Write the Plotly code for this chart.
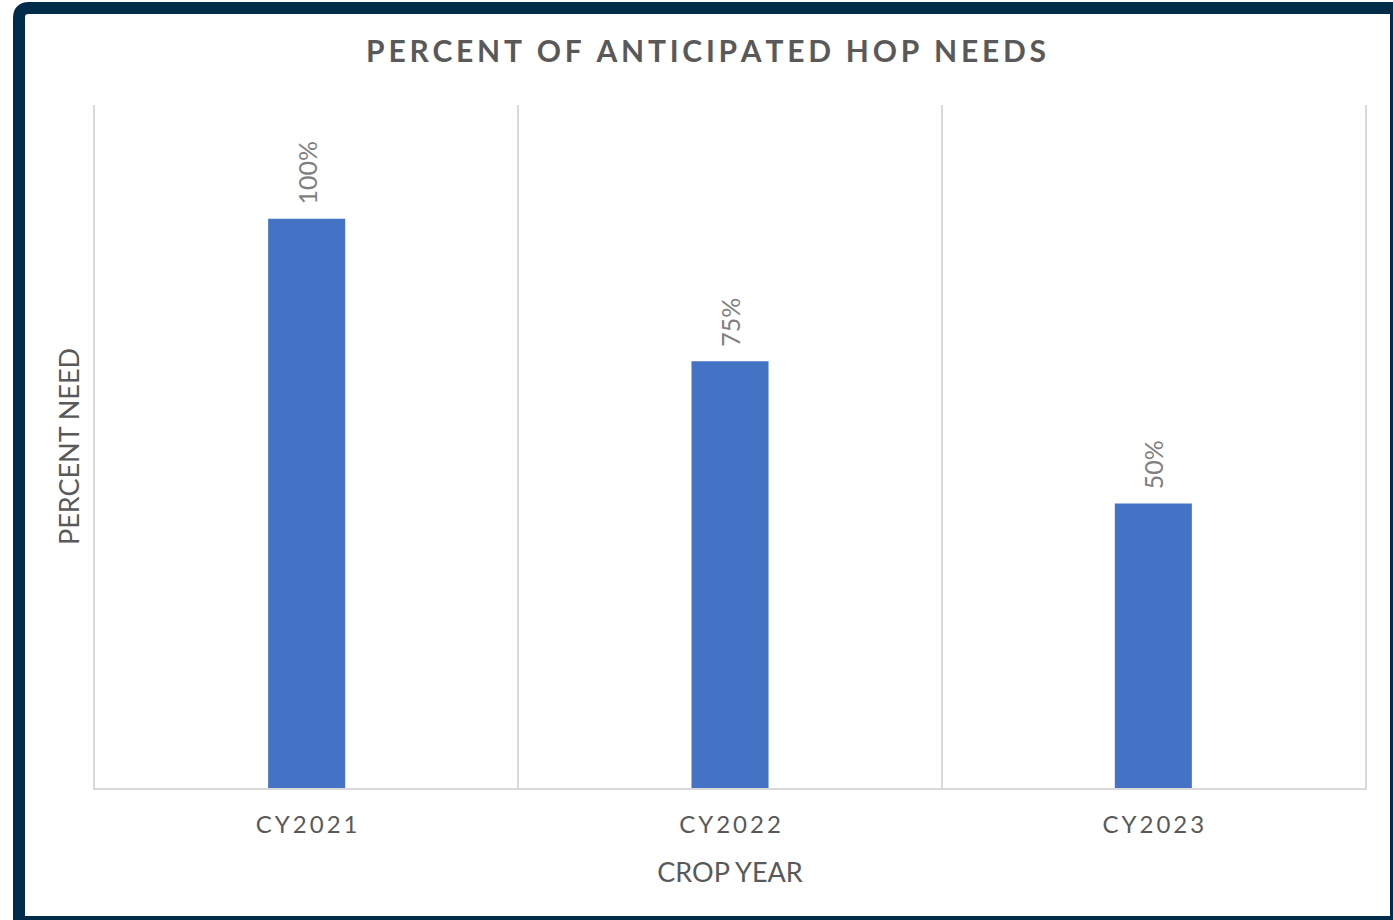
import plotly.graph_objects as go

# Chart data
crop_years = ["CY2021", "CY2022", "CY2023"]
percent_need = [100, 75, 50]
value_labels = ["100%", "75%", "50%"]

W, H = 1393, 920
L, R, T, B = 95, 28, 105, 132
PW, PH = W - L - R, H - T - B


def spaced(s, sep="\u2009"):
    return sep.join(list(s))


def px(x):
    return (x - L) / PW


def py(y):
    return (H - B - y) / PH


GRAY = "#595959"
LABEL_GRAY = "#7f7f7f"
GRID = "#d9d9d9"
BLUE = "#4472C4"
NAVY = "#002B49"
FONT = "Lato"

fig = go.Figure()
fig.add_trace(go.Bar(
    x=crop_years,
    y=percent_need,
    width=0.182,
    marker=dict(color=BLUE, line=dict(width=0)),
    hoverinfo="skip",
))

annotations = []
for cy, v, lab in zip(crop_years, percent_need, value_labels):
    annotations.append(dict(
        x=cy, y=v, xref="x", yref="y", text=lab, showarrow=False,
        textangle=-90, yanchor="bottom", xanchor="center", yshift=12,
        font=dict(family=FONT, size=25, color=LABEL_GRAY),
    ))

# Navy frame with rounded top-left corner
x0, y0, x1, y1, r = 19, 8, 1396, 922, 10
path = (
    f"M {px(x0)},{py(y1)} L {px(x0)},{py(y0 + r)} "
    f"Q {px(x0)},{py(y0)} {px(x0 + r)},{py(y0)} "
    f"L {px(x1)},{py(y0)} L {px(x1)},{py(y1)} Z"
)
shapes = [dict(
    type="path", path=path, xref="paper", yref="paper",
    line=dict(color=NAVY, width=12), fillcolor="rgba(0,0,0,0)", layer="above",
)]

fig.update_layout(
    width=W, height=H,
    margin=dict(l=L, r=R, t=T, b=B, pad=0),
    paper_bgcolor="white", plot_bgcolor="white",
    showlegend=False,
    title=dict(
        text=spaced("PERCENT OF ANTICIPATED HOP NEEDS"),
        x=706 / W, xref="container", xanchor="center",
        y=1 - 51 / H, yref="container", yanchor="middle",
        font=dict(family=FONT, size=30, color=GRAY, weight="bold"),
    ),
    xaxis=dict(
        range=[-0.5, 2.5], type="category",
        tickson="boundaries", ticks="", showgrid=True, gridcolor=GRID, gridwidth=1.5,
        showline=True, linecolor=GRID, linewidth=2,
        tickvals=crop_years, ticktext=[spaced(c) for c in crop_years],
        tickfont=dict(family=FONT, size=24, color=GRAY),
        ticklabelstandoff=14,
        title=dict(text="CROP YEAR", standoff=26,
                   font=dict(family=FONT, size=27, color=GRAY)),
        fixedrange=True,
    ),
    yaxis=dict(
        range=[0, 120], showgrid=False, zeroline=False,
        showline=True, mirror=True, linecolor=GRID, linewidth=1.5,
        showticklabels=False, ticks="",
        title=dict(text="PERCENT NEED", standoff=6,
                   font=dict(family=FONT, size=27, color=GRAY)),
        fixedrange=True,
    ),
    annotations=annotations,
    shapes=shapes,
)

fig.write_html("out.html")
